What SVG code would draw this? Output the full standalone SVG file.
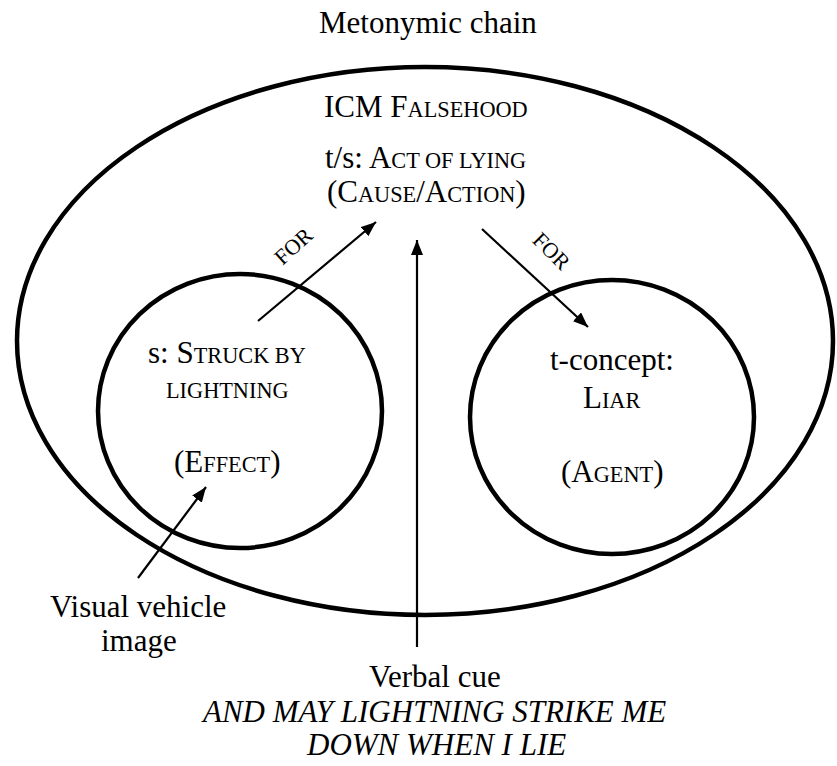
<svg xmlns="http://www.w3.org/2000/svg" width="837" height="766" viewBox="0 0 837 766">
<defs>
<marker id="ah" markerUnits="userSpaceOnUse" markerWidth="16" markerHeight="12" refX="15" refY="6" orient="auto">
<path d="M0,0 L15,6 L0,12 Z" fill="#000"/>
</marker>
</defs>
<rect width="837" height="766" fill="#fff"/>
<g id="title"><text x="319" y="33" font-family="Liberation Serif" font-size="31">Metonymic chain</text></g>
<g id="icm">
<ellipse cx="425" cy="341" rx="408" ry="274" fill="none" stroke="#000" stroke-width="4.5"/>
<text x="324" y="117" font-family="Liberation Serif" font-size="31">ICM F<tspan font-size="22.3">ALSEHOOD</tspan></text>
<text x="325" y="168" font-family="Liberation Serif" font-size="31">t/s: A<tspan font-size="22.3">CT OF LYING</tspan></text>
<text x="327" y="202" font-family="Liberation Serif" font-size="31">(C<tspan font-size="22.3">AUSE</tspan>/A<tspan font-size="22.3">CTION</tspan>)</text>
</g>
<g id="source">
<ellipse cx="240" cy="411" rx="142" ry="137" fill="none" stroke="#000" stroke-width="4.5"/>
<text x="148" y="363" font-family="Liberation Serif" font-size="31">s: S<tspan font-size="22.3">TRUCK BY</tspan></text>
<text x="166" y="398" font-family="Liberation Serif" font-size="22.3">LIGHTNING</text>
<text x="174" y="472" font-family="Liberation Serif" font-size="31">(E<tspan font-size="22.3">FFECT</tspan>)</text>
</g>
<g id="target">
<ellipse cx="612" cy="417" rx="142" ry="137" fill="none" stroke="#000" stroke-width="4.5"/>
<text x="550" y="370" font-family="Liberation Serif" font-size="31">t-concept:</text>
<text x="583" y="408" font-family="Liberation Serif" font-size="31">L<tspan font-size="22.3">IAR</tspan></text>
<text x="561" y="482" font-family="Liberation Serif" font-size="31">(A<tspan font-size="22.3">GENT</tspan>)</text>
</g>
<g id="visual">
<text x="50" y="617" font-family="Liberation Serif" font-size="31">Visual vehicle</text>
<text x="101" y="651" font-family="Liberation Serif" font-size="31">image</text>
</g>
<g id="verbal">
<text x="369" y="687" font-family="Liberation Serif" font-size="31">Verbal cue</text>
<text x="203" y="722" font-family="Liberation Serif" font-size="31" font-style="italic">AND MAY LIGHTNING STRIKE ME</text>
<text x="307" y="755" font-family="Liberation Serif" font-size="31" font-style="italic">DOWN WHEN I LIE</text>
</g>
<g id="connectors" fill="none" stroke="#000" stroke-width="2.2">
<line x1="258" y1="321" x2="376" y2="222" marker-end="url(#ah)"/>
<line x1="482" y1="229" x2="588" y2="327" marker-end="url(#ah)"/>
<line x1="417" y1="647" x2="417" y2="240" marker-end="url(#ah)"/>
<line x1="138" y1="578" x2="206" y2="487" marker-end="url(#ah)"/>
</g>
<g id="connector-labels">
<text x="-21" y="0" transform="translate(298,252) rotate(-42)" font-family="Liberation Serif" font-size="22">FOR</text>
<text x="-21" y="0" transform="translate(546,256) rotate(45)" font-family="Liberation Serif" font-size="22">FOR</text>
</g>
</svg>
